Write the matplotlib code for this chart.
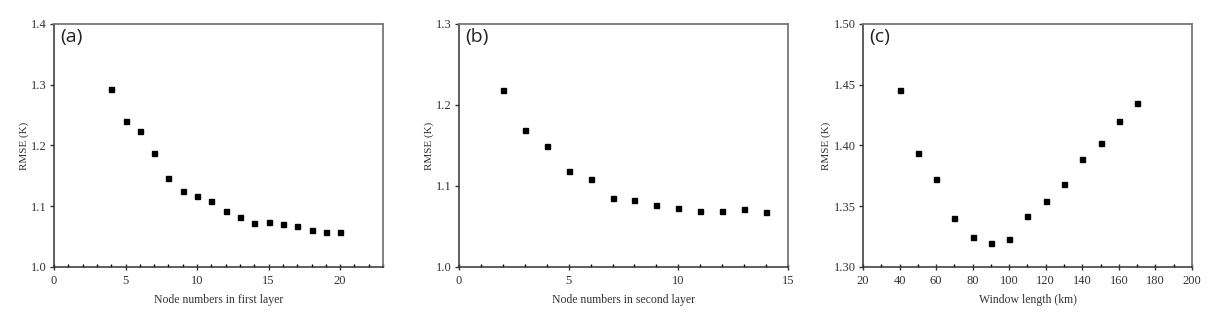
import matplotlib.pyplot as plt
from matplotlib.ticker import MultipleLocator

# panel (a): nodes in first layer
nodes_first = list(range(4, 21))
rmse_first = [1.293, 1.240, 1.224, 1.188, 1.146, 1.125, 1.117, 1.108, 1.092,
              1.083, 1.073, 1.074, 1.070, 1.068, 1.061, 1.057, 1.057]

# panel (b): nodes in second layer
nodes_second = list(range(2, 15))
rmse_second = [1.219, 1.169, 1.149, 1.119, 1.109, 1.085, 1.083, 1.077, 1.073,
               1.069, 1.069, 1.071, 1.068]

# panel (c): window length
window_km = list(range(40, 180, 10))
rmse_window = [1.446, 1.394, 1.372, 1.340, 1.325, 1.320, 1.323, 1.342, 1.354,
               1.368, 1.389, 1.402, 1.420, 1.435]

plt.rcParams['font.family'] = ['Liberation Serif', 'DejaVu Serif']

fig = plt.figure(figsize=(12.23, 3.28), dpi=100)
lefts = [0.0442, 0.3753, 0.7056]
panels = [
    (nodes_first, rmse_first, (0, 23), (1.0, 1.4), 5, 1, 0.1, '%.1f',
     'Node numbers in first layer', '(a)'),
    (nodes_second, rmse_second, (0, 15), (1.0, 1.3), 5, 1, 0.1, '%.1f',
     'Node numbers in second layer', '(b)'),
    (window_km, rmse_window, (20, 200), (1.30, 1.50), 20, 10, 0.05, '%.2f',
     'Window length (km)', '(c)'),
]

for left, (x, y, xl, yl, xmaj, xmin, ymaj, yfmt, xlabel, tag) in zip(lefts, panels):
    ax = fig.add_axes([left, 0.186, 0.269, 0.741])
    ax.plot(x, y, 's', color='black', markersize=3.6)
    ax.set_xlim(*xl)
    ax.set_ylim(*yl)
    ax.xaxis.set_major_locator(MultipleLocator(xmaj))
    ax.xaxis.set_minor_locator(MultipleLocator(xmin))
    ax.yaxis.set_major_locator(MultipleLocator(ymaj))
    ax.yaxis.set_major_formatter(plt.FormatStrFormatter(yfmt))
    ax.tick_params(axis='x', which='major', direction='inout', length=5,
                   width=1, labelsize=9, colors='#333333', pad=3)
    ax.tick_params(axis='x', which='minor', direction='in', length=2.5, width=1)
    ax.tick_params(axis='y', which='major', direction='out', length=3,
                   width=1, labelsize=9, colors='#333333', pad=2)
    for side in ['left', 'bottom']:
        ax.spines[side].set_linewidth(1.1)
        ax.spines[side].set_color('#333333')
    for side in ['top', 'right']:
        ax.spines[side].set_linewidth(1.3)
        ax.spines[side].set_color('#777777')
    ax.set_xlabel(xlabel, fontsize=8.5, color='#333333', labelpad=5)
    ax.set_ylabel('RMSE (K)', fontsize=8, color='#333333', labelpad=2)
    ax.text(0.018, 0.985, tag, transform=ax.transAxes, ha='left', va='top',
            fontsize=14, family=['Open Sans', 'DejaVu Sans'], color='#222222')

fig.savefig('out.png', dpi=100)
